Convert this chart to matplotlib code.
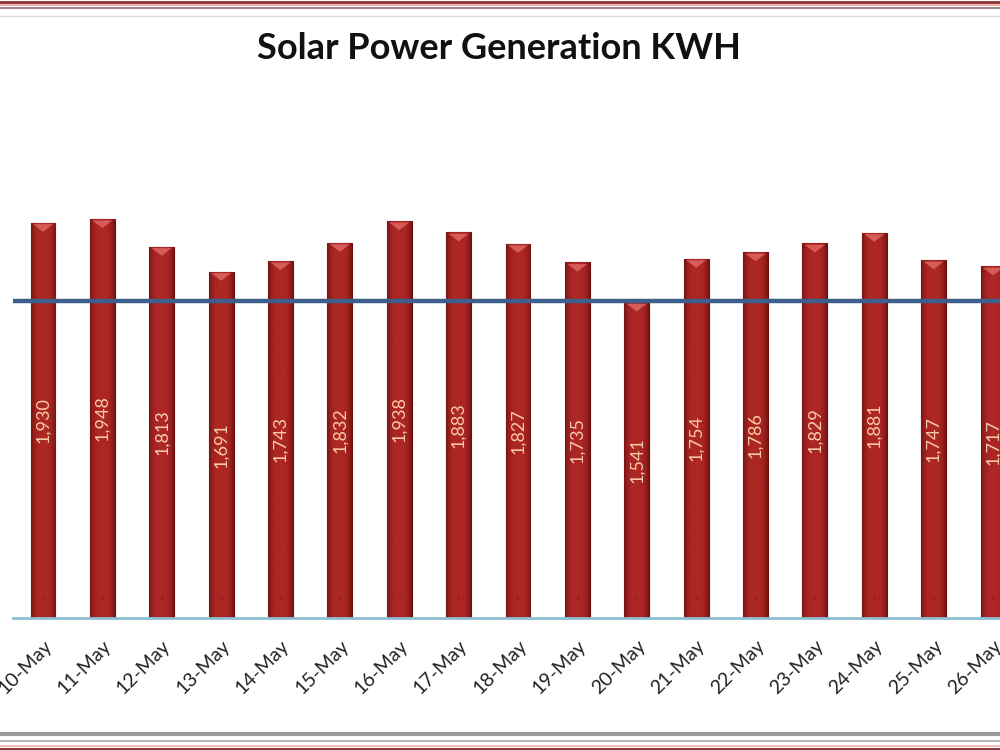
# Solar power generation bar chart
import numpy as np
import matplotlib.pyplot as plt
from matplotlib.lines import Line2D

plt.rcParams['font.family'] = ['Lato', 'DejaVu Sans']

# data
days = ['10-May', '11-May', '12-May', '13-May', '14-May', '15-May', '16-May',
        '17-May', '18-May', '19-May', '20-May', '21-May', '22-May', '23-May',
        '24-May', '25-May', '26-May']
kwh = [1930, 1948, 1813, 1691, 1743, 1832, 1938, 1883, 1827, 1735,
       1541, 1754, 1786, 1829, 1881, 1747, 1717]
target = 1545

fig = plt.figure(figsize=(10, 7.5), dpi=100)
ax = fig.add_axes([0.0133, 0.176, 1.0094, 0.683])

x = np.arange(len(days))
w = 0.42
bars = ax.bar(x, kwh, width=w, color='#a82222', edgecolor='#6a0f0f', linewidth=0.8, zorder=2)

# horizontal shading on each bar to get the rounded look
grad = np.linspace(0, 1, 64)
shade = 1 - 0.8 * (2 * np.abs(grad - 0.5)) ** 3
cmap = plt.matplotlib.colors.LinearSegmentedColormap.from_list('bar', ['#6a1010', '#ad2725'])
for b in bars:
    x0, w0, h0 = b.get_x(), b.get_width(), b.get_height()
    img = np.tile(shade, (2, 1))
    im = ax.imshow(img, extent=[x0, x0 + w0, 0, h0], aspect='auto', cmap=cmap,
                   vmin=0, vmax=1, zorder=2.5)
    im.set_clip_path(b)
    # lighter cap at the top
    ax.fill([x0 + w0 * 0.1, x0 + w0 * 0.9, x0 + w0 * 0.5], [h0 - 8, h0 - 8, h0 - 45],
            color='#e06a64', alpha=0.8, lw=0, zorder=3)

ax.axhline(target, color='#3d5f8c', lw=3.2, zorder=4)

for xi, v in zip(x, kwh):
    ax.text(xi, v / 2, f'{v:,}', rotation=90, ha='center', va='center',
            color='#f8caa8', fontsize=13, zorder=5)
    ax.text(xi, 100, ':', ha='center', va='center', color='#4a0808', fontsize=6, zorder=5)

ax.set_xlim(-0.5, len(days) - 0.5)
ax.set_ylim(0, 2500)
ax.set_xticks(x)
ax.set_xticklabels(days, rotation=45, ha='right', va='top', rotation_mode='anchor',
                   fontsize=14, color='#222222')
ax.tick_params(axis='x', length=0, pad=14)
ax.set_yticks([])
for s in ['top', 'left', 'right']:
    ax.spines[s].set_visible(False)
ax.spines['bottom'].set_color('#8cbfd2')
ax.spines['bottom'].set_linewidth(2)

fig.text(0.499, 0.935, 'Solar Power Generation KWH', ha='center', va='center',
         fontsize=26, fontweight='bold', color='#111111')

# frame lines at top and bottom of the image
def hline(yf, c, lw):
    fig.add_artist(Line2D([0, 1], [yf, yf], transform=fig.transFigure, color=c, lw=lw))

hline(0.9975, '#8a3030', 2.0)
hline(0.994, '#f3b0b0', 1.5)
hline(0.989, '#a08888', 1.5)
hline(0.979, '#dddddd', 1.0)
hline(0.022, '#999999', 3.0)
hline(0.012, '#aaaaaa', 1.2)
hline(0.006, '#f6c0c0', 1.5)
hline(0.0015, '#8a3030', 2.0)

fig.savefig('out.png', dpi=100)
